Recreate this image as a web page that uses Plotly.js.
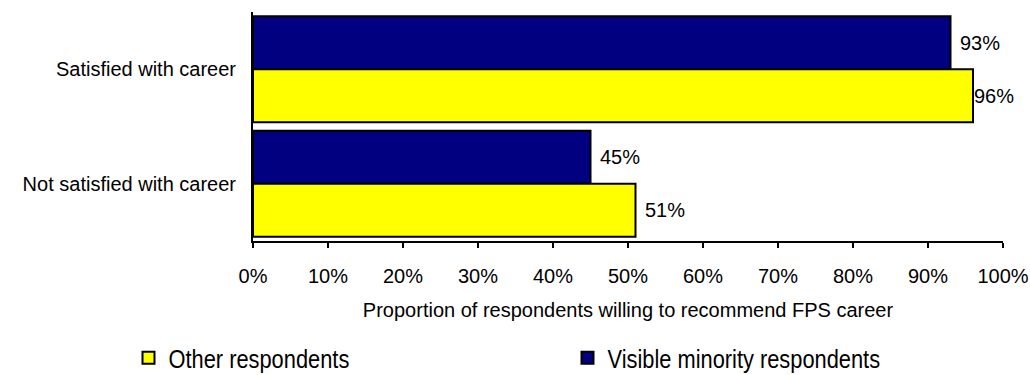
<!DOCTYPE html>
<html>
<head>
<meta charset="utf-8">
<script src="https://cdn.plot.ly/plotly-3.0.1.min.js"></script>
<style>
  html, body { margin: 0; padding: 0; background: #ffffff; }
  #chart { width: 1030px; height: 375px; }
</style>
</head>
<body>
<div id="chart"></div>
<script>
// Willingness to recommend an FPS career, by career satisfaction
const categories = ['Satisfied with career', 'Not satisfied with career'];
const visibleMinority = [0.93, 0.45];
const otherRespondents = [0.96, 0.51];
const seriesNames = ['Visible minority respondents', 'Other respondents'];
const xTickVals = [0, 0.1, 0.2, 0.3, 0.4, 0.5, 0.6, 0.7, 0.8, 0.9, 1.0];
const xTickText = ['0%', '10%', '20%', '30%', '40%', '50%', '60%', '70%', '80%', '90%', '100%'];

const FONT = 'Liberation Sans, Arial, sans-serif';
const BAR_GAP = 0.074;
const PLOT_LEFT = 253, PLOT_WIDTH = 750;
const LABEL_RIGHT_LIMIT = 1012, LABEL_WIDTH = 40;

const pct = v => Math.round(v * 100) + '%';

const traces = [
  {
    type: 'bar', orientation: 'h', name: seriesNames[0],
    y: categories, x: visibleMinority,
    marker: { color: '#000080', line: { color: '#000000', width: 2 } },
    legendrank: 2, hoverinfo: 'x+y'
  },
  {
    type: 'bar', orientation: 'h', name: seriesNames[1],
    y: categories, x: otherRespondents,
    marker: { color: '#FFFF00', line: { color: '#000000', width: 2 } },
    legendrank: 1, hoverinfo: 'x+y'
  }
];

// value labels just past each bar end, kept inside the chart's right edge
const half = (1 - BAR_GAP) / 4;
const labelShift = v => Math.min(7, LABEL_RIGHT_LIMIT - LABEL_WIDTH - (PLOT_LEFT + v * PLOT_WIDTH));
const annotations = [];
categories.forEach((c, i) => {
  [[visibleMinority[i], i - half], [otherRespondents[i], i + half]].forEach(([v, y]) => {
    annotations.push({ x: v, y: y, xref: 'x', yref: 'y',
      text: pct(v), showarrow: false, xanchor: 'left', xshift: labelShift(v),
      font: { family: FONT, size: 20, color: '#000' } });
  });
});

const layout = {
  width: 1030, height: 375,
  margin: { l: PLOT_LEFT, r: 1030 - PLOT_LEFT - PLOT_WIDTH, t: 12, b: 134, pad: 0, autoexpand: false },
  paper_bgcolor: '#ffffff', plot_bgcolor: '#ffffff',
  font: { family: FONT, size: 20, color: '#000000' },
  barmode: 'group', bargap: BAR_GAP, bargroupgap: 0,
  xaxis: {
    range: [0, 1], tickvals: xTickVals, ticktext: xTickText,
    showgrid: false, zeroline: false,
    showline: true, linecolor: '#000', linewidth: 2,
    ticks: 'outside', ticklen: 5, tickwidth: 2, tickcolor: '#000',
    ticklabelstandoff: 11,
    tickfont: { family: FONT, size: 20, color: '#000' },
    title: { text: 'Proportion of respondents willing to recommend FPS career',
             font: { family: FONT, size: 20, color: '#000' }, standoff: 17 },
    automargin: false,
    fixedrange: true
  },
  yaxis: {
    type: 'category', autorange: 'reversed',
    showgrid: false, zeroline: false,
    showline: true, linecolor: '#000', linewidth: 2,
    ticks: '', ticklabelstandoff: 11,
    tickfont: { family: FONT, size: 20, color: '#000' },
    automargin: false,
    fixedrange: true
  },
  showlegend: true,
  legend: {
    orientation: 'h', x: -0.166, xanchor: 'left', y: -0.511, yanchor: 'middle',
    entrywidth: 394, entrywidthmode: 'pixels',
    font: { family: FONT, size: 25, color: '#000' },
    bgcolor: 'rgba(0,0,0,0)', borderwidth: 0
  },
  annotations: annotations
};

Plotly.newPlot('chart', traces, layout, { displayModeBar: false, staticPlot: true }).then(gd => {
  // legend entries are set in a narrow face: condense the glyphs horizontally
  gd.querySelectorAll('.legendtext').forEach(t => {
    const w = t.getComputedTextLength();
    t.setAttribute('textLength', (w * 0.873).toFixed(1));
    t.setAttribute('lengthAdjust', 'spacingAndGlyphs');
  });
});
</script>
</body>
</html>
